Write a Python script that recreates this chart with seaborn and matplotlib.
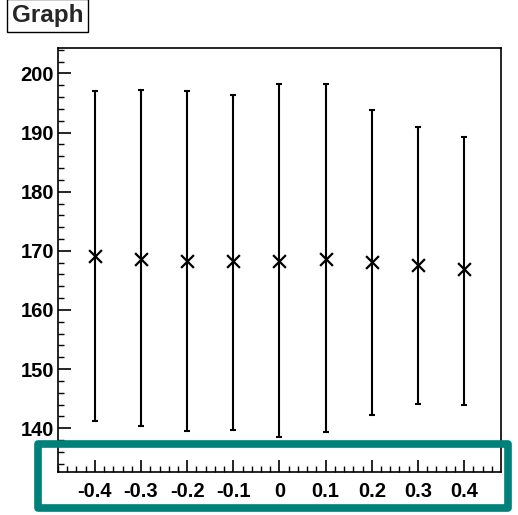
import matplotlib
matplotlib.use("Agg")
import matplotlib.pyplot as plt
import seaborn as sns
import pandas as pd
import numpy as np
from matplotlib.ticker import MultipleLocator
from matplotlib.patches import Rectangle

x_vals = [-0.4, -0.3, -0.2, -0.1, 0.0, 0.1, 0.2, 0.3, 0.4]
y_vals = [169.1, 168.7, 168.3, 168.2, 168.3, 168.7, 168.05, 167.6, 166.9]
y_high = [197.0, 197.2, 197.0, 196.4, 198.2, 198.2, 193.8, 190.9, 189.3]
y_low = [141.2, 140.4, 139.5, 139.7, 138.5, 139.3, 142.3, 144.1, 144.0]
x_ticklabels = ["-0.4", "-0.3", "-0.2", "-0.1", "0", "0.1", "0.2", "0.3", "0.4"]
y_ticks = [140, 150, 160, 170, 180, 190, 200]
title = "Graph"

sns.set_theme(style="white")
plt.rcParams['font.family'] = ['Liberation Sans', 'DejaVu Sans']

df = pd.DataFrame({"x": x_vals, "y": y_vals, "hi": y_high, "lo": y_low})

W, H = 518, 515
fig = plt.figure(figsize=(W / 100, H / 100), dpi=100)
left, right, top, bottom = 58, 500.5, 48, 472
ax = fig.add_axes([left / W, 1 - bottom / H, (right - left) / W, (bottom - top) / H])

yerr = np.array([df["y"] - df["lo"], df["hi"] - df["y"]])
ax.errorbar(df["x"], df["y"], yerr=yerr, fmt="none", ecolor="black",
            elinewidth=1.5, capsize=2.5, capthick=1.5, zorder=2)
sns.scatterplot(data=df, x="x", y="y", marker="x", s=85, color="black",
                linewidth=1.6, ax=ax, zorder=3)

ax.set_xlim(-0.48, 0.479)
ax.set_ylim(132.6, 204.3)
ax.set_xlabel("")
ax.set_ylabel("")
ax.set_xticks(x_vals)
ax.set_xticklabels(x_ticklabels)
ax.set_yticks(y_ticks)
ax.xaxis.set_minor_locator(MultipleLocator(0.02))
ax.yaxis.set_minor_locator(MultipleLocator(2))
ax.tick_params(axis="both", which="major", direction="in", length=9, width=1.2,
               labelsize=14.5, colors="black", pad=3)
ax.tick_params(axis="x", which="major", pad=7)
ax.tick_params(axis="both", which="minor", direction="in", length=4.5, width=1.0,
               colors="black")
ax.tick_params(top=False, right=False, which="both")
ax.tick_params(bottom=True, left=True, which="both")
for lab in ax.get_xticklabels() + ax.get_yticklabels():
    lab.set_fontweight("bold")
for sp in ax.spines.values():
    sp.set_visible(True)
    sp.set_color("black")
    sp.set_linewidth(1.2)

fig.text(12 / W, 1 - 15.5 / H, title, fontsize=17.5, fontweight="bold",
         ha="left", va="center",
         bbox=dict(boxstyle="square,pad=0.2", facecolor="white",
                   edgecolor="black", linewidth=1.0))

fig.patches.append(Rectangle((38 / W, 1 - 508 / H), (508 - 38) / W, (508 - 444) / H,
                             transform=fig.transFigure, fill=False,
                             edgecolor="#00807A", linewidth=5.5,
                             joinstyle="round"))

fig.savefig("out.png", dpi=100)
